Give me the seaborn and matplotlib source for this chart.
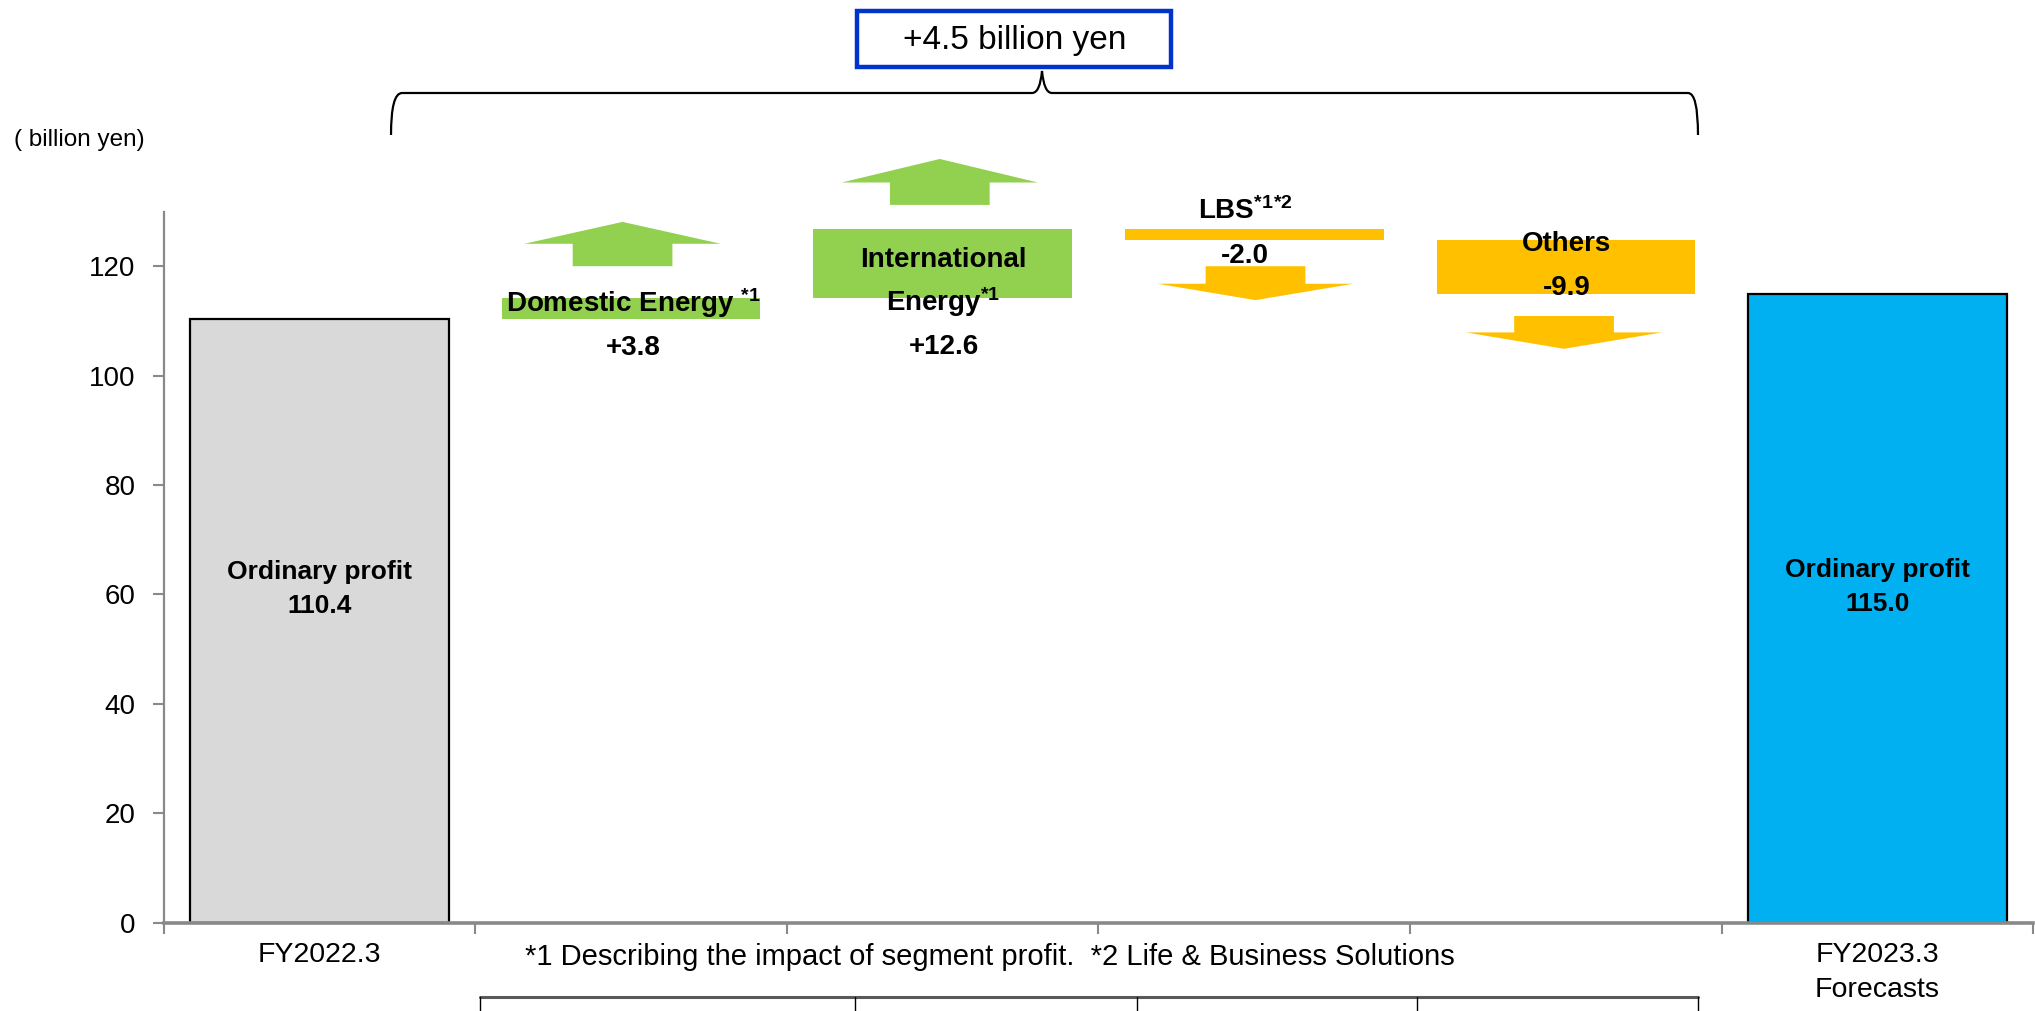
import numpy as np
import pandas as pd
import matplotlib
matplotlib.use("Agg")
import matplotlib.pyplot as plt
from matplotlib.patches import Polygon, Rectangle, PathPatch
from matplotlib.path import Path
from matplotlib.lines import Line2D
import seaborn as sns

# ---- data ----
categories = ["FY2022.3", "Domestic Energy", "International Energy", "LBS", "Others", "FY2023.3"]
changes = [110.4, 3.8, 12.6, -2.0, -9.9, 115.0]
is_total = [True, False, False, False, False, True]
bar_colors = ["#D9D9D9", "#92D050", "#92D050", "#FFC000", "#FFC000", "#00B0F0"]
name_lines = [
    ["Ordinary profit"],
    ["Domestic Energy $^{*1}$"],
    ["International", "Energy$^{*1}$"],
    ["LBS$^{*1}$$^{*2}$"],
    ["Others"],
    ["Ordinary profit"],
]
x_labels = ["FY2022.3", "FY2023.3\nForecasts"]
y_ticks = [0, 20, 40, 60, 80, 100, 120]
total_change_text = "+4.5 billion yen"
unit_text = "( billion yen)"
footnote = "*1 Describing the impact of segment profit.  *2 Life & Business Solutions"

# ---- layout (text / arrow placement, data units) ----
line_y = [[64.1, 57.9], [113.2, 105.1], [121.2, 113.4, 105.3], [130.0, 121.9], [124.1, 116.0], [64.4, 58.3]]
label_dx = [0, 0.006, 0.003, -0.03, 0.003, 0]
arrow_gap = [None, 5.8, 4.4, 4.8, 4.0, None]
arrow_shaft = [None, 4.1, 4.1, 3.2, 3.0, None]
arrow_head = [None, 4.0, 4.3, 3.0, 3.0, None]
arrow_dx = [0, -0.027, -0.009, 0.004, -0.006, 0]

# waterfall bottoms
bottoms = []
running = 0.0
for v, tot in zip(changes, is_total):
    if tot:
        bottoms.append(0.0)
        running = v
    else:
        bottoms.append(running)
        running += v
bottoms = np.array(bottoms)

sns.set_style("white")
plt.rcParams["font.family"] = ["Liberation Sans", "DejaVu Sans"]
plt.rcParams["text.color"] = "black"
plt.rcParams["xtick.labelcolor"] = "black"
plt.rcParams["ytick.labelcolor"] = "black"
plt.rcParams["mathtext.fontset"] = "custom"
plt.rcParams["mathtext.rm"] = "Liberation Sans"
plt.rcParams["mathtext.bf"] = "Liberation Sans:bold"
plt.rcParams["mathtext.default"] = "bf"

W, H = 2035, 1011
fig = plt.figure(figsize=(W / 100, H / 100), dpi=100)
ax = fig.add_axes([163.5 / W, (H - 922.7) / H, 1 - 163.5 / W - 0.0008, (922.7 - 211.5) / H])

df = pd.DataFrame({"category": categories, "change": changes})
sns.barplot(data=df, x="category", y="change", order=categories, color="#D9D9D9",
            saturation=1, width=0.83, errorbar=None, bottom=bottoms, ax=ax)
for patch, col, tot in zip(ax.patches, bar_colors, is_total):
    patch.set_facecolor(col)
    if tot:
        patch.set_edgecolor("black")
        patch.set_linewidth(1.6)
    else:
        patch.set_edgecolor("none")
        patch.set_linewidth(0)

ax.set_xlim(-0.5, len(categories) - 0.5)
ax.set_ylim(0, 130)
ax.set_xlabel("")
ax.set_ylabel("")
for s in ["top", "right"]:
    ax.spines[s].set_visible(False)
ax.spines["left"].set_color("#898989")
ax.spines["left"].set_linewidth(1.6)
ax.spines["bottom"].set_color("#898989")
ax.spines["bottom"].set_linewidth(2.6)

ax.set_yticks(y_ticks)
ax.set_yticklabels([str(t) for t in y_ticks], fontsize=20)
ax.set_xticks(np.arange(len(categories) + 1) - 0.5)
ax.set_xticklabels([])
ax.set_xticks([0, len(categories) - 1], labels=x_labels, minor=True, fontsize=20.5)
ax.tick_params(axis="y", direction="out", length=8, width=1.5, color="#898989", pad=12, left=True)
ax.tick_params(axis="x", which="major", direction="out", length=8, width=1.5, color="#898989", bottom=True)
ax.tick_params(axis="x", which="minor", length=0, pad=14)
for lab in ax.get_xticklabels(minor=True):
    lab.set_linespacing(1.45)

# labels on bars
for i, v in enumerate(changes):
    val = f"{v:.1f}" if is_total[i] else f"{v:+.1f}"
    lines = name_lines[i] + [val]
    size = 19 if is_total[i] else 20
    for txt, y in zip(lines, line_y[i]):
        ax.text(i + label_dx[i], y, txt, ha="center", va="center", fontsize=size,
                fontweight="bold", clip_on=False)


# block arrows
def block_arrow(xc, y0, shaft, head, color, up, head_w=0.63, shaft_w=0.32):
    s = 1 if up else -1
    y1 = y0 + s * shaft
    y2 = y1 + s * head
    pts = [(xc - shaft_w / 2, y0), (xc - shaft_w / 2, y1), (xc - head_w / 2, y1), (xc, y2),
           (xc + head_w / 2, y1), (xc + shaft_w / 2, y1), (xc + shaft_w / 2, y0)]
    ax.add_patch(Polygon(pts, closed=True, fc=color, ec="none", clip_on=False))


for i, v in enumerate(changes):
    if is_total[i]:
        continue
    up = v > 0
    end = bottoms[i] + v
    y0 = end + arrow_gap[i] if up else end - arrow_gap[i]
    block_arrow(i + arrow_dx[i], y0, arrow_shaft[i], arrow_head[i], bar_colors[i], up)


# figure-level annotations (pixel helpers)
def fx(px):
    return px / W


def fy(py):
    return 1 - py / H


fig.text(fx(14), fy(140), unit_text, fontsize=17.5, ha="left", va="center")
fig.text(fx(525), fy(957), footnote, fontsize=21, ha="left", va="center")

# brace
verts = [(391, 135), (391, 93), (402, 93), (1032, 93), (1040, 93), (1042, 71),
         (1044, 93), (1052, 93), (1688, 93), (1698, 93), (1698, 135)]
codes = [Path.MOVETO, Path.CURVE3, Path.CURVE3, Path.LINETO, Path.CURVE3, Path.CURVE3,
         Path.CURVE3, Path.CURVE3, Path.LINETO, Path.CURVE3, Path.CURVE3]
brace = Path([(fx(x), fy(y)) for x, y in verts], codes)
fig.patches.append(PathPatch(brace, transform=fig.transFigure, fc="none", ec="black", lw=1.6))

fig.patches.append(Rectangle((fx(857), fy(67)), fx(1171) - fx(857), fy(11) - fy(67),
                             transform=fig.transFigure, fc="white", ec="#0033CC", lw=3.2))
fig.text(fx(1015), fy(41), total_change_text, fontsize=24, ha="center", va="center")

# table edge at the bottom
fig.add_artist(Line2D([fx(480), fx(1698)], [fy(997), fy(997)], color="#595959", lw=2.2,
                      transform=fig.transFigure))
for px in [480, 855, 1137, 1417, 1698]:
    fig.add_artist(Line2D([fx(px), fx(px)], [fy(997), fy(1011)], color="black", lw=1,
                          transform=fig.transFigure))

fig.savefig("out.png", dpi=100)
